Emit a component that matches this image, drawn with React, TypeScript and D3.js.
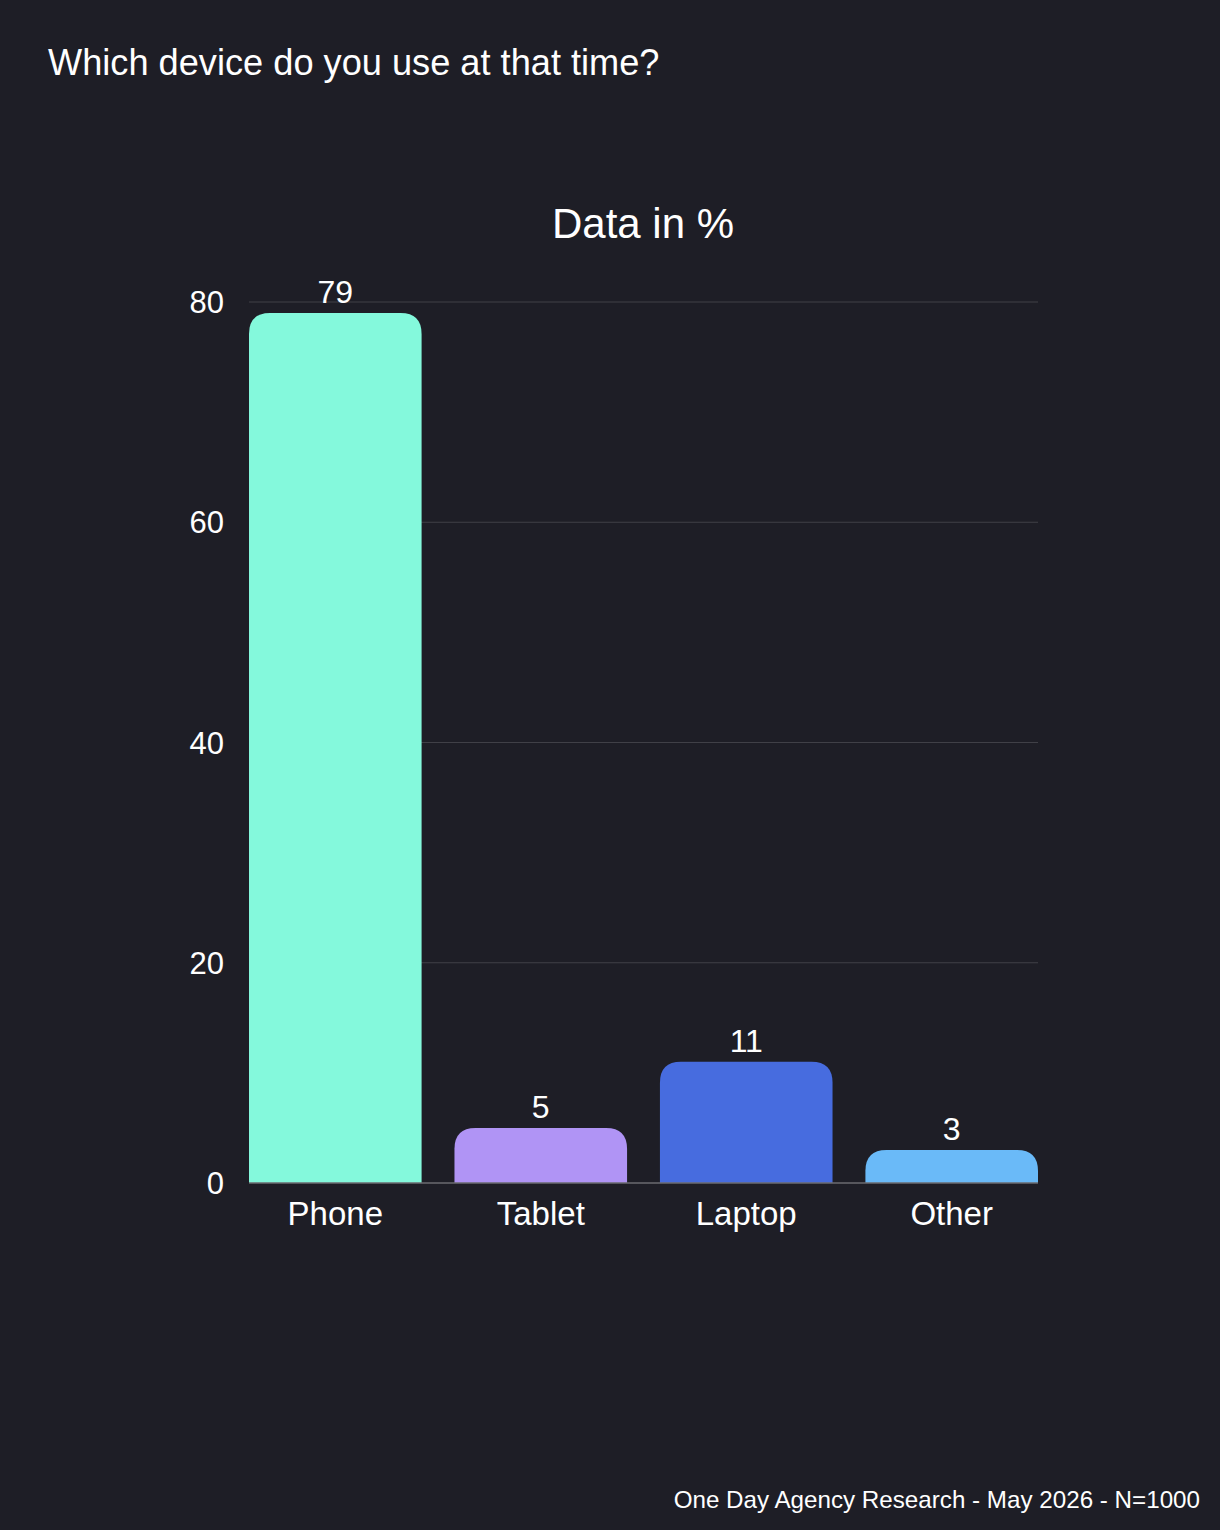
import { useEffect } from "react";
import * as d3 from "d3";

const categories = ["Phone", "Tablet", "Laptop", "Other"];
const values = [79, 5, 11, 3];
const barColors = ["#84f9dc", "#b094f5", "#476cdf", "#6abaf8"];
const yTicks = [0, 20, 40, 60, 80];

const W = 1220;
const H = 1530;
const margin = { top: 302, right: 182, bottom: 347, left: 249 };
const FONT = "'Liberation Sans', Arial, Helvetica, sans-serif";

function topRoundedRect(x: number, y: number, w: number, h: number, r: number) {
  const rr = Math.min(r, h, w / 2);
  return `M${x},${y + h}V${y + rr}Q${x},${y} ${x + rr},${y}H${x + w - rr}Q${x + w},${y} ${x + w},${y + rr}V${y + h}Z`;
}

export default function App() {
  useEffect(() => {
    document.body.style.margin = "0";
    document.body.style.background = "#1e1e26";
  }, []);

  const x = d3
    .scaleBand<string>()
    .domain(categories)
    .range([margin.left, W - margin.right])
    .paddingInner(0.16)
    .paddingOuter(0);

  const y = d3
    .scaleLinear()
    .domain([0, 80])
    .range([H - margin.bottom, margin.top]);

  return (
    <svg width={W} height={H} viewBox={`0 0 ${W} ${H}`} style={{ display: "block", background: "#1e1e26" }}>
      <rect x={0} y={0} width={W} height={H} fill="#1e1e26" />
      <text x={48} y={75} fill="#ffffff" fontFamily={FONT} fontSize={36.2}>
        Which device do you use at that time?
      </text>
      <text x={643} y={238} fill="#ffffff" fontFamily={FONT} fontSize={42} textAnchor="middle">
        Data in %
      </text>

      {/* gridlines */}
      {yTicks
        .filter((t) => t > 0)
        .map((t) => (
          <line
            key={t}
            x1={margin.left}
            x2={W - margin.right}
            y1={y(t)}
            y2={y(t)}
            stroke="#404047"
            strokeWidth={1}
          />
        ))}

      {/* y tick labels */}
      {yTicks.map((t) => (
        <text
          key={t}
          x={224}
          y={y(t) + 11}
          fill="#ffffff"
          fontFamily={FONT}
          fontSize={31}
          textAnchor="end"
        >
          {t}
        </text>
      ))}

      {/* bars */}
      {categories.map((c, i) => {
        const bx = x(c) ?? 0;
        const by = y(values[i]);
        const bh = y(0) - by;
        return (
          <g key={c}>
            <path d={topRoundedRect(bx, by, x.bandwidth(), bh, 21)} fill={barColors[i]} />
            <text
              x={bx + x.bandwidth() / 2}
              y={by - 10}
              fill="#ffffff"
              fontFamily={FONT}
              fontSize={32}
              textAnchor="middle"
            >
              {values[i]}
            </text>
            <text
              x={bx + x.bandwidth() / 2}
              y={y(0) + 42}
              fill="#ffffff"
              fontFamily={FONT}
              fontSize={33}
              textAnchor="middle"
            >
              {c}
            </text>
          </g>
        );
      })}

      {/* baseline */}
      <line x1={margin.left} x2={W - margin.right} y1={y(0)} y2={y(0)} stroke="#6b6b70" strokeWidth={1.5} />

      <text x={1200} y={1508} fill="#ffffff" fontFamily={FONT} fontSize={24.2} textAnchor="end">
        One Day Agency Research - May 2026 - N=1000
      </text>
    </svg>
  );
}
